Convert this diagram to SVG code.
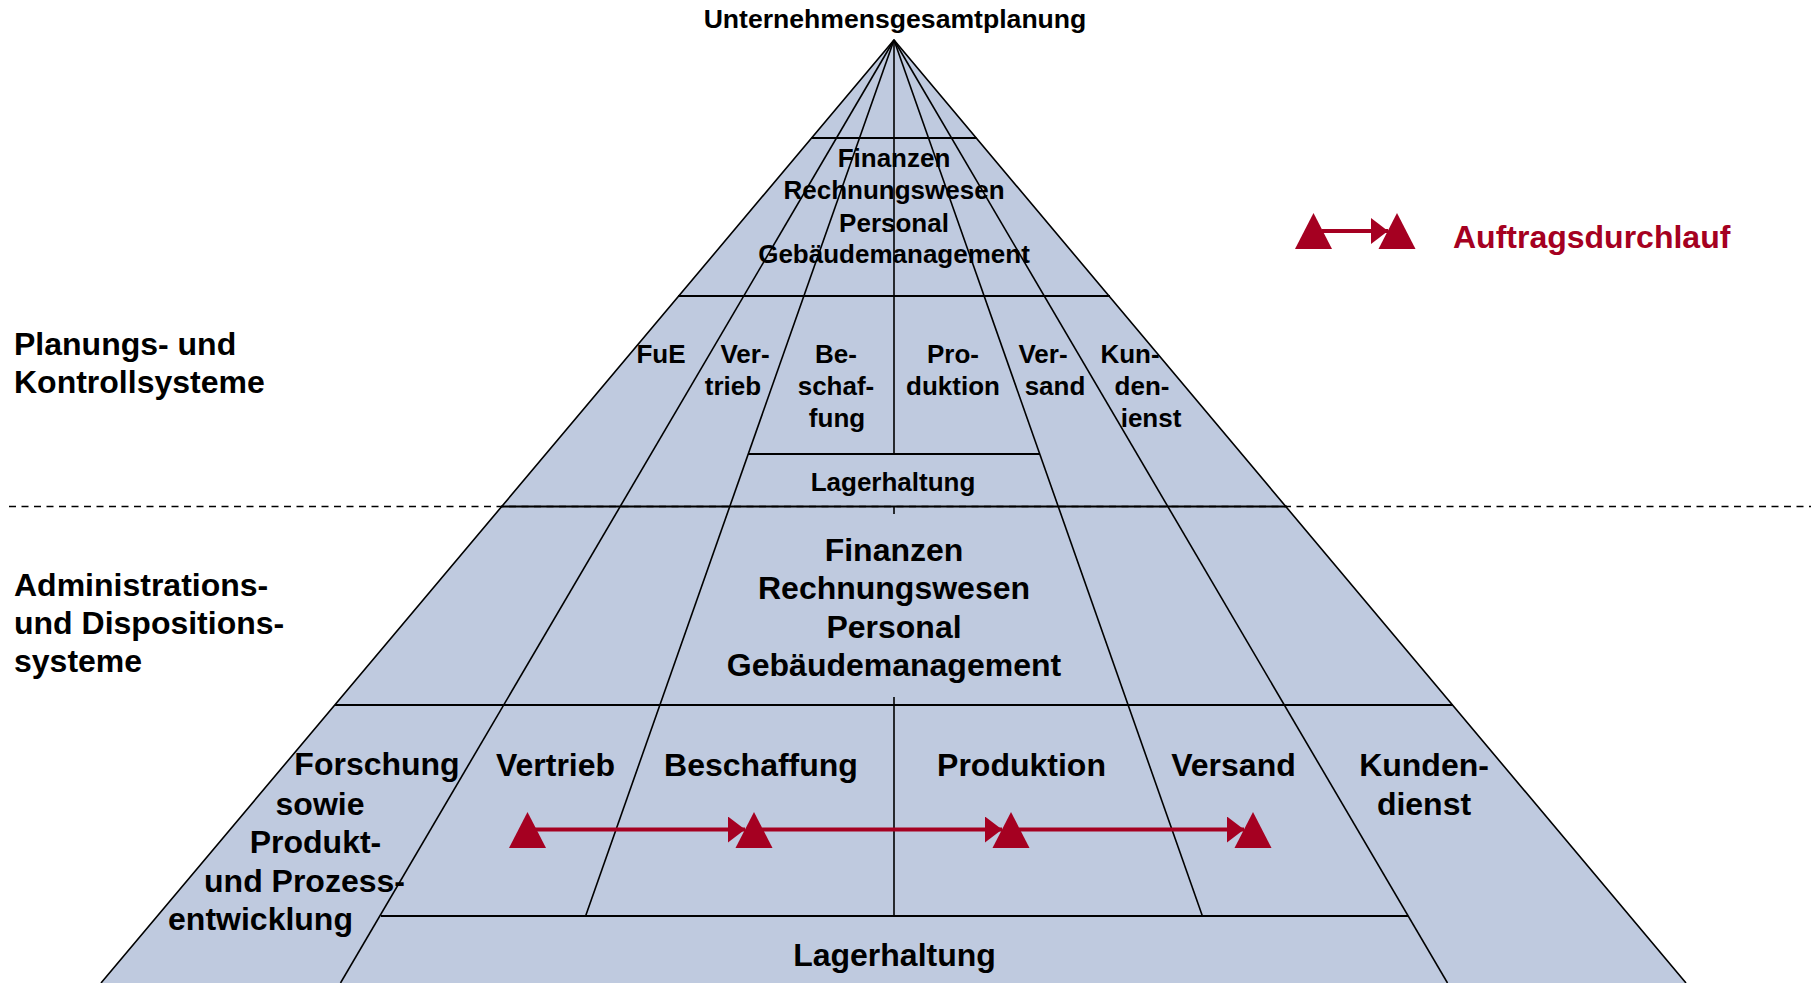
<svg xmlns="http://www.w3.org/2000/svg" width="1811" height="983" viewBox="0 0 1811 983">
  <style>
    .t { font-family: "Liberation Sans", Arial, sans-serif; font-weight: bold; fill: #000; text-anchor: middle; }
    .s { font-size: 26px; }
    .l { font-size: 32px; }
    .side { font-family: "Liberation Sans", Arial, sans-serif; font-weight: bold; font-size: 32px; fill: #000; }
    .ln { stroke: #000; stroke-width: 1.6; fill: none; }
    .hz { stroke: #000; stroke-width: 2; fill: none; }
    .flow { stroke: #A50021; stroke-width: 4; fill: none; }
    .tri { fill: #A50021; }
  </style>
  <defs>
    <marker id="head" markerUnits="userSpaceOnUse" markerWidth="18" markerHeight="26" refX="17" refY="13" orient="auto">
      <path d="M0,0 L17,13 L0,26 z" fill="#A50021"/>
    </marker>
    <path id="triangle" d="M0,0 L18.5,36 L-18.5,36 z"/>
  </defs>

  <rect width="1811" height="983" fill="#fff"/>

  <!-- pyramid body and grid -->
  <g id="pyramid">
    <polygon points="894,40 1686,983 101,983" fill="#BFCADF"/>
    <!-- outer edges -->
    <polyline class="ln" points="101,983 894,40 1686,983"/>
    <!-- radials from the apex -->
    <line class="ln" x1="894" y1="40" x2="340.5" y2="983"/>
    <line class="ln" x1="894" y1="40" x2="585.6" y2="916"/>
    <line class="ln" x1="894" y1="40" x2="1202.4" y2="916"/>
    <line class="ln" x1="894" y1="40" x2="1447.5" y2="983"/>
    <!-- centre divider -->
    <line class="ln" x1="894" y1="40" x2="894" y2="454"/>
    <line class="ln" x1="894" y1="506" x2="894" y2="514"/>
    <line class="ln" x1="894" y1="697" x2="894" y2="916"/>
    <!-- horizontal bands -->
    <line class="hz" x1="811.5" y1="138" x2="976.5" y2="138"/>
    <line class="hz" x1="678" y1="296" x2="1110" y2="296"/>
    <line class="hz" x1="748" y1="454" x2="1040" y2="454"/>
    <line class="hz" x1="501" y1="506.5" x2="1287" y2="506.5"/>
    <line class="hz" x1="335" y1="705" x2="1453" y2="705"/>
    <line class="hz" x1="381" y1="916" x2="1408" y2="916"/>
    <line class="hz" x1="586" y1="916" x2="1202" y2="916"/>
  </g>

  <!-- boundary between the two system levels -->
  <line id="level-divider" x1="9" y1="506.5" x2="1811" y2="506.5" stroke="#000" stroke-width="1.5" stroke-dasharray="7 5.5"/>

  <g id="title">
    <text class="t" font-size="26.6" x="895" y="28">Unternehmensgesamtplanung</text>
  </g>

  <g id="top-central">
    <text class="t s" x="894" y="166.7">Finanzen</text>
    <text class="t s" x="894" y="199.3">Rechnungswesen</text>
    <text class="t s" x="894" y="231.7">Personal</text>
    <text class="t s" x="894" y="263.3">Gebäudemanagement</text>
  </g>

  <g id="mid-fue"><text class="t s" x="661" y="363">FuE</text></g>
  <g id="mid-vertrieb">
    <text class="t s" x="745" y="363">Ver-</text>
    <text class="t s" x="733" y="394.5">trieb</text>
  </g>
  <g id="mid-beschaffung">
    <text class="t s" x="836" y="363">Be-</text>
    <text class="t s" x="836" y="394.5">schaf-</text>
    <text class="t s" x="837" y="426.5">fung</text>
  </g>
  <g id="mid-produktion">
    <text class="t s" x="953" y="363">Pro-</text>
    <text class="t s" x="953" y="394.5">duktion</text>
  </g>
  <g id="mid-versand">
    <text class="t s" x="1043" y="363">Ver-</text>
    <text class="t s" x="1055" y="394.5">sand</text>
  </g>
  <g id="mid-kundendienst">
    <text class="t s" x="1130" y="363">Kun-</text>
    <text class="t s" x="1142" y="394.5">den-</text>
    <text class="t s" x="1151" y="426.5">ienst</text>
  </g>
  <g id="mid-lager"><text class="t s" x="893" y="491">Lagerhaltung</text></g>

  <g id="low-central">
    <text class="t l" x="894" y="561">Finanzen</text>
    <text class="t l" x="894" y="599.3">Rechnungswesen</text>
    <text class="t l" x="894" y="637.7">Personal</text>
    <text class="t l" x="894" y="675.7">Gebäudemanagement</text>
  </g>

  <g id="low-forschung">
    <text class="t l" x="377" y="775">Forschung</text>
    <text class="t l" x="320" y="814.5">sowie</text>
    <text class="t l" x="315.5" y="853">Produkt-</text>
    <text class="t l" x="304.5" y="891.5">und Prozess-</text>
    <text class="t l" x="260.5" y="930">entwicklung</text>
  </g>
  <g id="low-vertrieb"><text class="t l" x="555.5" y="776">Vertrieb</text></g>
  <g id="low-beschaffung"><text class="t l" x="761" y="776">Beschaffung</text></g>
  <g id="low-produktion"><text class="t l" x="1021.5" y="776">Produktion</text></g>
  <g id="low-versand"><text class="t l" x="1233.5" y="776">Versand</text></g>
  <g id="low-kundendienst">
    <text class="t l" x="1424" y="776">Kunden-</text>
    <text class="t l" x="1424" y="814.5">dienst</text>
  </g>
  <g id="low-lager"><text class="t l" x="894.5" y="965.5">Lagerhaltung</text></g>

  <g id="label-planung">
    <text class="side" x="14" y="355">Planungs- und</text>
    <text class="side" x="14" y="393">Kontrollsysteme</text>
  </g>
  <g id="label-administration">
    <text class="side" x="14" y="596">Administrations-</text>
    <text class="side" x="14" y="634">und Dispositions-</text>
    <text class="side" x="14" y="672">systeme</text>
  </g>

  <!-- order flow stations -->
  <g id="stations">
    <use href="#triangle" class="tri" x="527.5" y="812"/>
    <use href="#triangle" class="tri" x="754" y="812"/>
    <use href="#triangle" class="tri" x="1011" y="812"/>
    <use href="#triangle" class="tri" x="1253" y="812"/>
  </g>

  <g id="connectors">
    <line class="flow" x1="535" y1="829.5" x2="745" y2="829.5" marker-end="url(#head)"/>
    <line class="flow" x1="762" y1="829.5" x2="1002" y2="829.5" marker-end="url(#head)"/>
    <line class="flow" x1="1019" y1="829.5" x2="1244" y2="829.5" marker-end="url(#head)"/>
  </g>

  <g id="legend">
    <use href="#triangle" class="tri" x="1313.5" y="213"/>
    <use href="#triangle" class="tri" x="1397" y="213"/>
    <line class="flow" x1="1322" y1="231" x2="1388" y2="231" marker-end="url(#head)"/>
    <text x="1453" y="248" font-family="'Liberation Sans', Arial, sans-serif" font-weight="bold" font-size="32" fill="#A50021">Auftragsdurchlauf</text>
  </g>
</svg>
